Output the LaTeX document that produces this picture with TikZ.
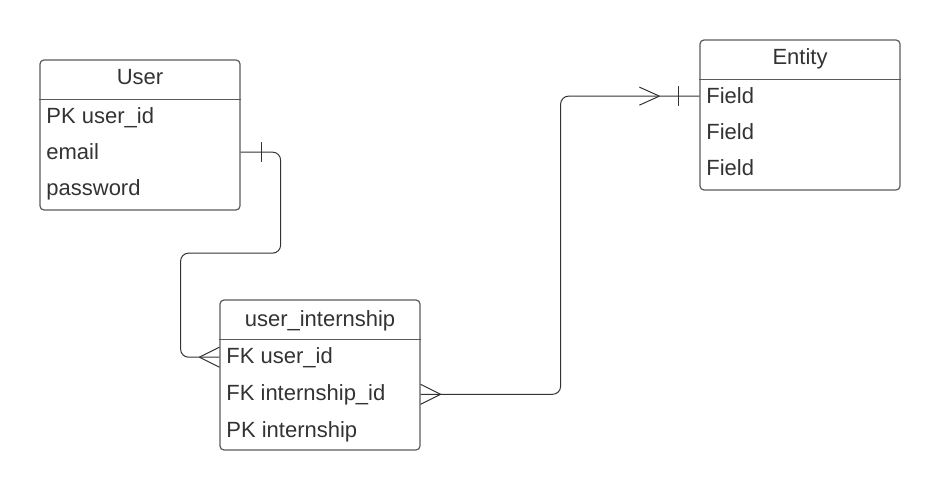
\documentclass[tikz,border=0pt]{standalone}
\usepackage{fontspec}
\setmainfont{Liberation Sans}
\usetikzlibrary{positioning}
\definecolor{erborder}{HTML}{5A5A5A}
\definecolor{ertext}{HTML}{333333}
\tikzset{
  entity/.style={
    % The shape:
    rectangle,
    rounded corners=2pt,
    % The size:
    minimum width=100pt,
    minimum height=75pt,
    % The border:
    draw=erborder,
    line width=0.6pt,
    inner sep=0pt},
  title/.style={
    % The text:
    font=\fontsize{11}{13}\selectfont,
    text=ertext,
    anchor=base,
    inner sep=0pt},
  field/.style={
    % The text:
    font=\fontsize{11}{13}\selectfont,
    text=ertext,
    anchor=base west,
    inner sep=0pt},
  relation/.style={draw=ertext,line width=0.5pt,rounded corners=4pt}
}
{
  \tikzset{title/.append style={text height=1.5ex,text depth=.45ex}}
  \tikzset{field/.append style={text height=1.5ex,text depth=.45ex}}
}

\begin{document}
\begin{tikzpicture}[x=0.5pt,y=-0.5pt]
  \useasboundingbox (0,0) rectangle (940,491);

  % User:
  \node (user) [entity] at (140,135) {};
  \node (user-title) [title] at (140,85) {User};
  \draw [erborder,line width=0.6pt] ([yshift=-20pt]user.north west) -- ([yshift=-20pt]user.north east);
  \node (user-pk)    [field] at (46,124) {PK user\_id};
  \node (user-email) [field] at (46,160) {email};
  \node (user-pass)  [field] at (46,196) {password};

  % Entity:
  \node (entity) [entity] at (800,115) {};
  \node (entity-title) [title] at (800,65) {Entity};
  \draw [erborder,line width=0.6pt] ([yshift=-20pt]entity.north west) -- ([yshift=-20pt]entity.north east);
  \node (entity-f1) [field] at (706,104) {Field};
  \node (entity-f2) [field] at (706,140) {Field};
  \node (entity-f3) [field] at (706,176) {Field};

  % user_internship:
  \node (uint) [entity] at (320,375) {};
  \node (uint-title) [title] at (320,326) {user\_internship};
  \draw [erborder,line width=0.6pt] ([yshift=-20pt]uint.north west) -- ([yshift=-20pt]uint.north east);
  \node (uint-fkuser) [field] at (226,363) {FK user\_id};
  \node (uint-fkint)  [field] at (226,400) {FK internship\_id};
  \node (uint-pk)     [field] at (226,437) {PK internship};

  % Connector end points:
  \coordinate (ue)   at (user.east |- user-email.center);
  \coordinate (fk1)  at (uint.west |- uint-fkuser.center);
  \coordinate (fk2)  at (uint.east |- uint-fkint.center);
  \coordinate (ent1) at (entity.west |- entity-f1.center);

  % User -- user_internship:
  \draw [relation] (ue) -- ++(40,0) -- ++(0,101) -- ++(-100,0) |- (fk1);
  \draw [relation,rounded corners=0pt] (ue) ++(21,-10) -- ++(0,20);
  \draw [relation,rounded corners=0pt] (fk1) ++(-20,0) -- ++(20,-10) ++(-20,10) -- ++(20,10);

  % user_internship -- Entity:
  \draw [relation] (fk2) -- ++(140,0) |- (ent1);
  \draw [relation,rounded corners=0pt] (fk2) ++(20,0) -- ++(-20,-10) ++(20,10) -- ++(-20,10);
  \draw [relation,rounded corners=0pt] (ent1) ++(-40,0) -- ++(-20,-9) ++(20,9) -- ++(-20,9);
  \draw [relation,rounded corners=0pt] (ent1) ++(-21,-10) -- ++(0,20);

\end{tikzpicture}
\end{document}
